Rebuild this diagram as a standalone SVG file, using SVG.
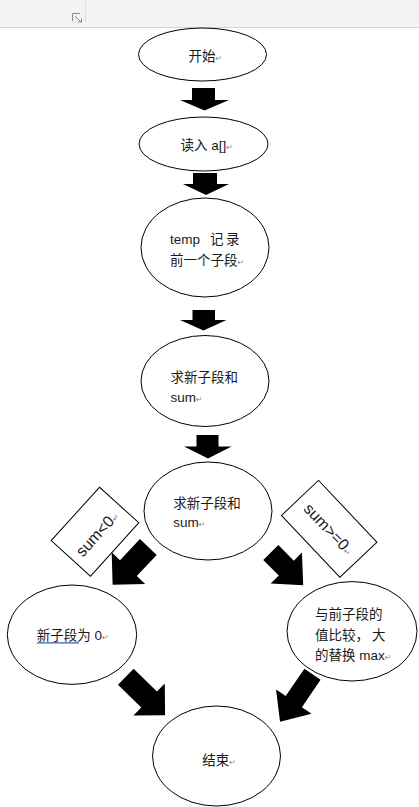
<svg xmlns="http://www.w3.org/2000/svg" width="419" height="807" viewBox="0 0 419 807">
<style>
.node ellipse{fill:#fff;stroke:#000;stroke-width:1}
.t{font-family:"Liberation Sans","Noto Sans CJK SC",sans-serif;font-size:13.5px;fill:#1a1a1a}
.pm{font-family:"DejaVu Sans",sans-serif;font-size:8px;fill:#888}
.arrow{fill:#000}
.lbl rect{fill:#fff;stroke:#000;stroke-width:1}
.lt{font-family:"Liberation Sans",sans-serif;font-size:16px;fill:#1a1a1a}
</style>
<rect x="0" y="0" width="419" height="807" fill="#fff"/>
<g id="toolbar">
<rect x="0" y="0" width="419" height="27" fill="#f3f3f3"/>
<line x1="0" y1="27.5" x2="419" y2="27.5" stroke="#d4d4d4" stroke-width="1"/>
<line x1="85.5" y1="0" x2="85.5" y2="22" stroke="#dedede" stroke-width="1"/>
<path d="M72.5,21 V13.5 H80" fill="none" stroke="#8a8a8a" stroke-width="1"/>
<path d="M75,16 L81,22 M78,22 H81.5 V18.5" fill="none" stroke="#8a8a8a" stroke-width="1"/>
</g>
<g id="connectors">
<polygon class="arrow" points="192,88 215,88 215,100 229,100 204.5,110.5 180,100 192,100"/>
<polygon class="arrow" points="193,173 217,173 217,184 229,184 206,195 183,184 193,184"/>
<polygon class="arrow" points="192.5,310 215,310 215,320 226.5,320 203.5,330.5 180,320 192.5,320"/>
<polygon class="arrow" points="196.5,435 218.5,435 218.5,446.5 231.5,446.5 208,458.5 184,446.5 196.5,446.5"/>
<polygon class="arrow" transform="translate(148.3,547) rotate(43.3)" points="-11.5,0 11.5,0 11.5,29 23,29 0,52 -23,29 -11.5,29"/>
<polygon class="arrow" transform="translate(270.8,552.5) rotate(-44.8)" points="-10.6,0 10.6,0 10.6,22 22,22 0,46 -22,22 -10.6,22"/>
<polygon class="arrow" transform="translate(125.8,676.7) rotate(-45.6)" points="-11.2,0 11.2,0 11.2,32.6 22.4,32.6 0,55 -22.4,32.6 -11.2,32.6"/>
<polygon class="arrow" transform="translate(312.5,674.2) rotate(34.3)" points="-9.8,0 9.8,0 9.8,33.2 21.5,33.2 0,57.6 -21.5,33.2 -9.8,33.2"/>
</g>
<g id="start" class="node">
<ellipse cx="202.5" cy="54.5" rx="64" ry="26.5"/>
<text class="t" x="188.5" y="60.5">开始<tspan class="pm">↵</tspan></text>
</g>
<g id="read" class="node">
<ellipse cx="203.5" cy="144" rx="64.5" ry="27"/>
<text class="t" x="180.5" y="149.5">读入 a[]<tspan class="pm">↵</tspan></text>
</g>
<g id="temp" class="node">
<ellipse cx="205" cy="247.5" rx="64" ry="49.5"/>
<text class="t" y="244"><tspan x="170">temp</tspan><tspan x="210">记</tspan><tspan x="226">录</tspan></text>
<text class="t" x="170" y="265">前一个子段<tspan class="pm">↵</tspan></text>
</g>
<g id="sum1" class="node">
<ellipse cx="205" cy="381" rx="64" ry="45.5"/>
<text class="t" x="170.5" y="382">求新子段和</text>
<text class="t" x="170.5" y="402">sum<tspan class="pm">↵</tspan></text>
</g>
<g id="sum2" class="node">
<ellipse cx="208" cy="511" rx="64" ry="49"/>
<text class="t" x="173.3" y="507.5">求新子段和</text>
<text class="t" x="173.3" y="527">sum<tspan class="pm">↵</tspan></text>
</g>
<g id="zero" class="node">
<ellipse cx="72" cy="634.7" rx="64.7" ry="49.7"/>
<text class="t" x="36.7" y="639.5">新子段为 0<tspan class="pm">↵</tspan></text>
<line x1="37" y1="642.8" x2="79" y2="642.8" stroke="#2f5fb3" stroke-width="1.2"/>
</g>
<g id="compare" class="node">
<ellipse cx="352" cy="631.3" rx="65" ry="49.7"/>
<text class="t" x="315" y="618.5">与前子段的</text>
<text class="t" y="639.5"><tspan x="315">值比较，</tspan><tspan x="372">大</tspan></text>
<text class="t" x="315" y="660">的替换 max<tspan class="pm">↵</tspan></text>
</g>
<g id="end" class="node">
<ellipse cx="216.5" cy="756" rx="64" ry="50"/>
<text class="t" x="202.3" y="765">结束<tspan class="pm">↵</tspan></text>
</g>
<g id="label-neg" class="lbl" transform="translate(95,531.7) rotate(-47.8)">
<rect x="-36" y="-26.5" width="72" height="53"/>
<text class="lt" x="0" y="8.5" text-anchor="middle">sum&lt;0<tspan class="pm">↵</tspan></text>
</g>
<g id="label-pos" class="lbl" transform="translate(329.2,528.8) rotate(46.6)">
<rect x="-42.5" y="-25.5" width="85" height="51"/>
<text class="lt" x="0" y="6" text-anchor="middle">sum&gt;=0<tspan class="pm">↵</tspan></text>
</g>
</svg>
